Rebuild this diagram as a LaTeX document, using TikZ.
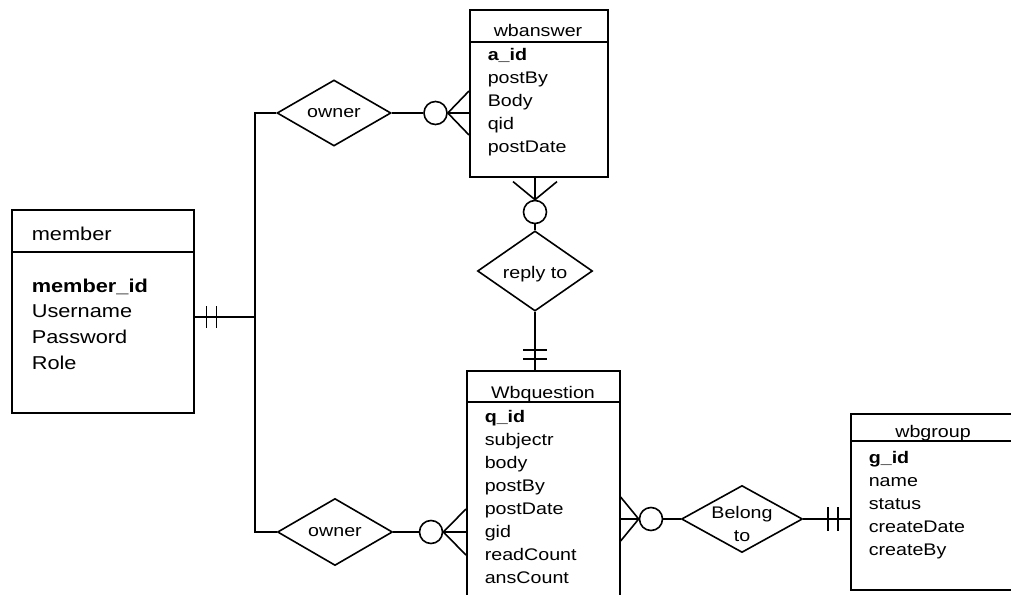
\documentclass[tikz,border=0pt]{standalone}
\usepackage{fontspec}
\setmainfont{Liberation Sans}[FakeStretch=1.17]
\usepackage{tikz}
\usetikzlibrary{calc,positioning,shapes.geometric}
\newcommand\erbig{\fontsize{18.6}{25.7}\selectfont}
\newcommand\ersmall{\fontsize{16.8}{23}\selectfont}
\tikzset{
  er diagram/.style={x=1pt, y=-1pt, font=\ersmall, line width=1.6pt},
  er entity/.style={draw, anchor=north west, inner sep=0pt},
  er rel/.style={draw, diamond, inner sep=0pt, align=center},
  er ring/.style={draw, circle, minimum size=23pt, inner sep=0pt},
  er attr/.style={anchor=base west, inner sep=0pt},
  er title/.style={anchor=base, inner sep=0pt}
}
\begin{document}
\begin{tikzpicture}[er diagram]
\useasboundingbox (0,0) rectangle (1011,594);
\clip (0,0) rectangle (1011,594);
\node[er entity, minimum width=182pt, minimum height=203pt] (member) at (11,209) {};
\draw (11,252) -- (193,252);
\node[er attr, font=\erbig] (member-t) at (31,240) {member};
\foreach \a [count=\i] in {\textbf{member\_id},Username,Password,Role}
  \node[er attr, font=\erbig] (member-\i) at (31,{292+25.7*(\i-1)}) {\a};
\node[er entity, minimum width=138pt, minimum height=167pt] (wbanswer) at (469,9) {};
\draw (469,42) -- (607,42);
\node[er title] (wbanswer-t) at (538,37) {wbanswer};
\foreach \a [count=\i] in {\textbf{a\_id},postBy,Body,qid,postDate}
  \node[er attr] (wbanswer-\i) at (487,{60+23*(\i-1)}) {\a};
\node[er entity, minimum width=153pt, minimum height=240pt] (wbquestion) at (466,370) {};
\draw (466,402) -- (619,402);
\node[er title] (wbquestion-t) at (543,398) {Wbquestion};
\foreach \a [count=\i] in {\textbf{q\_id},subjectr,body,postBy,postDate,gid,readCount,ansCount}
  \node[er attr] (wbquestion-\i) at (484,{422+23*(\i-1)}) {\a};
\node[er entity, minimum width=180pt, minimum height=176pt] (wbgroup) at (850,413) {};
\draw (850,441) -- (1030,441);
\node[er title] (wbgroup-t) at (933,437) {wbgroup};
\foreach \a [count=\i] in {\textbf{g\_id},name,status,createDate,createBy}
  \node[er attr] (wbgroup-\i) at (868,{463+23*(\i-1)}) {\a};
\node[er rel, minimum width=114pt, minimum height=66pt] (ownerA) at (334,113) {owner};
\node[er rel, minimum width=115pt, minimum height=66pt] (reply) at (535,271) {\raisebox{-3pt}[\height][\depth]{reply to}};
\node[er rel, minimum width=115pt, minimum height=67pt] (ownerB) at (335,532) {owner};
\node[er rel, minimum width=121pt, minimum height=67pt] (belong) at (742,519)
  {\raisebox{-10.5pt}[0pt][0pt]{\begin{tabular}{@{}c@{}}Belong\\to\end{tabular}}};
\node[er ring] (cA) at (435.5,113) {};
\node[er ring] (cR) at (535,212) {};
\node[er ring] (cB) at (431,532) {};
\node[er ring] (cG) at (651,519) {};
\coordinate (trunk) at (255,317);
\draw (ownerA.west) -| (trunk) |- (ownerB.west);
\draw (member.east |- trunk) -- (trunk);
\foreach \d in {12,22}
  \draw ($(member.east |- trunk)+(\d,-11)$) -- ++(0,22);
\draw (ownerA.east) -- (cA.west);
\foreach \d in {-22,0,22}
  \draw (cA.east) -- ($(cA.east -| wbanswer.west)+(0,\d)$);
\draw (reply.north) -- (cR.south);
\draw (cR.north) -- (cR.north |- wbanswer.south);
\foreach \d in {-22,22}
  \draw (cR.north) -- ($(cR.north |- wbanswer.south)+(\d,4)$);
\draw (reply.south) -- (reply.south |- wbquestion.north);
\foreach \d in {11,20}
  \draw ($(reply.south |- wbquestion.north)+(-12,-\d)$) -- ++(24,0);
\draw (ownerB.east) -- (cB.west);
\foreach \d in {-23,0,23}
  \draw (cB.east) -- ($(cB.east -| wbquestion.west)+(0,\d)$);
\foreach \d in {-22,0,22}
  \draw (cG.west) -- ($(cG.west -| wbquestion.east)+(0,\d)$);
\draw (cG.east) -- (belong.west);
\draw (belong.east) -- (belong.east -| wbgroup.west);
\foreach \d in {12,22}
  \draw ($(belong.east -| wbgroup.west)+(-\d,-12)$) -- ++(0,24);
\end{tikzpicture}
\end{document}
